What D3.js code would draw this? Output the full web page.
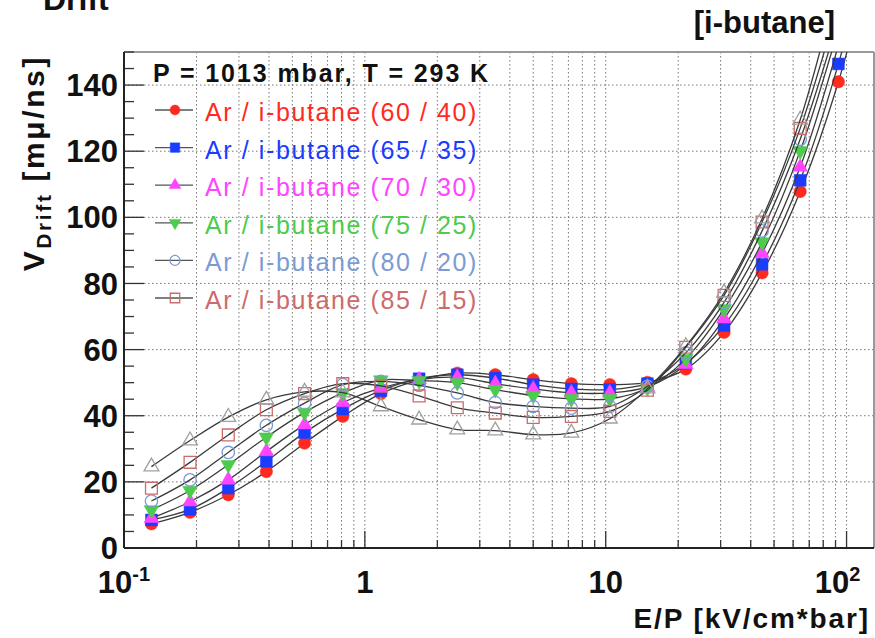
<!DOCTYPE html>
<html>
<head>
<meta charset="utf-8">
<script src="https://cdn.jsdelivr.net/npm/d3@7"></script>
<style>
  body { margin: 0; background: #fff; }
  svg { display: block; font-family: "Liberation Sans", Arial, Helvetica, sans-serif; }
</style>
</head>
<body>
<div id="chart"></div>
<script>
// E/P values (kV/cm*bar) of the measured points
const epValues = [0.13, 0.188, 0.271, 0.39, 0.562, 0.81, 1.165, 1.68, 2.42, 3.48,
  5.0, 7.2, 10.4, 14.9, 21.5, 31.0, 44.6, 64.2, 92.5, 133];

// drift velocities per mixture
const vAr60 = [7.3, 10.8, 16.1, 23.1, 31.7, 39.8, 46.7, 50.8, 52.9, 52.4,
  50.9, 49.7, 49.4, 50.1, 54.1, 65.2, 83.2, 107.8, 141.0, 185];
const vAr65 = [8.5, 11.7, 18.1, 26.2, 34.9, 42.0, 47.6, 51.2, 52.4, 51.4,
  49.4, 48.1, 47.9, 49.7, 55.8, 67.3, 85.8, 111.2, 146.4, 192];
const vAr70 = [9.0, 14.0, 20.6, 29.2, 37.3, 44.0, 48.4, 50.9, 51.6, 49.7,
  48.1, 46.9, 46.9, 48.7, 55.5, 69.3, 89.1, 115.2, 152];
const vAr75 = [11.5, 17.4, 25.2, 33.5, 41.0, 46.9, 50.8, 50.6, 50.0, 47.9,
  46.1, 45.1, 45.1, 48.4, 57.2, 72.3, 92.5, 120.1, 157];
const vAr80 = [14.2, 20.6, 28.9, 37.1, 43.8, 49.4, 50.4, 49.2, 46.9, 44.0,
  42.8, 42.3, 42.8, 48.9, 59.0, 74.3, 95.9, 123.6, 160];
const vAr85 = [18.1, 25.9, 34.2, 41.8, 46.7, 49.7, 49.0, 46.0, 42.4, 40.8,
  39.5, 39.8, 41.3, 47.7, 60.7, 76.4, 98.6, 126.9, 165];
const vAr90 = [24.6, 32.5, 39.6, 44.8, 47.2, 47.0, 42.8, 38.8, 35.8, 35.5,
  34.3, 34.8, 39.1, 48.2, 61.0, 77.2, 99.6, 129.5, 172];

const seriesNames = ['Ar / i-butane (60 / 40)', 'Ar / i-butane (65 / 35)', 'Ar / i-butane (70 / 30)',
  'Ar / i-butane (75 / 25)', 'Ar / i-butane (80 / 20)', 'Ar / i-butane (85 / 15)', ''];
const seriesValues = [vAr60, vAr65, vAr70, vAr75, vAr80, vAr85, vAr90];
const seriesColors = ['#ff2a1f', '#1a3cff', '#ff44ff', '#4ccb4c', '#7b9bd4', '#cc6b6b', '#a0a0a0'];
const seriesMarkers = ['circle', 'square', 'triangle', 'triangleDown', 'openCircle', 'openSquare', 'openTriangle'];

const yTicks = [0, 20, 40, 60, 80, 100, 120, 140];

const width = 875;
const height = 638;
const margin = { top: 52, right: 1, bottom: 90, left: 124 };
const plotW = width - margin.left - margin.right;
const plotH = height - margin.top - margin.bottom;

const x = d3.scaleLog().domain([0.1, 130]).range([0, plotW]);
const y = d3.scaleLinear().domain([0, 150]).range([plotH, 0]);

const svg = d3.select('#chart').append('svg')
  .attr('width', width)
  .attr('height', height);

svg.append('defs').append('clipPath')
  .attr('id', 'plotClip')
  .append('rect')
  .attr('width', plotW)
  .attr('height', plotH);

const g = svg.append('g').attr('transform', `translate(${margin.left},${margin.top})`);

// log tick positions: 1..9 times each decade
const logTicks = [];
[0.1, 1, 10, 100].forEach((dec) => {
  for (let k = 1; k < 10; k += 1) {
    const v = dec * k;
    if (v <= 130) logTicks.push({ v, major: k === 1 });
  }
});

// grid
g.append('g').selectAll('line')
  .data(logTicks.filter((t) => t.v > 0.1))
  .join('line')
  .attr('x1', (d) => x(d.v))
  .attr('x2', (d) => x(d.v))
  .attr('y1', 0)
  .attr('y2', plotH)
  .attr('stroke', '#777')
  .attr('stroke-width', 1)
  .attr('stroke-dasharray', '1.5,2.5');
g.append('g').selectAll('line')
  .data(yTicks.filter((t) => t > 0))
  .join('line')
  .attr('x1', 0)
  .attr('x2', plotW)
  .attr('y1', (d) => y(d))
  .attr('y2', (d) => y(d))
  .attr('stroke', '#777')
  .attr('stroke-width', 1)
  .attr('stroke-dasharray', '1.5,2.5');

// frame (top / right lighter)
g.append('line').attr('x1', 0).attr('x2', plotW).attr('y1', 0).attr('y2', 0)
  .attr('stroke', '#999').attr('stroke-width', 2);
g.append('line').attr('x1', plotW).attr('x2', plotW).attr('y1', 0).attr('y2', plotH)
  .attr('stroke', '#999').attr('stroke-width', 2);

// y axis ticks, inward
const yMinor = d3.range(0, 151, 5);
g.append('g').selectAll('line')
  .data(yMinor)
  .join('line')
  .attr('x1', 0)
  .attr('x2', (d) => (d % 20 === 0 ? 20 : 10))
  .attr('y1', (d) => y(d))
  .attr('y2', (d) => y(d))
  .attr('stroke', '#333')
  .attr('stroke-width', 1.3);

// x axis ticks, inward
g.append('g').selectAll('line')
  .data(logTicks)
  .join('line')
  .attr('x1', (d) => x(d.v))
  .attr('x2', (d) => x(d.v))
  .attr('y1', plotH)
  .attr('y2', (d) => plotH - (d.major ? 17 : 8))
  .attr('stroke', '#333')
  .attr('stroke-width', 1.3);

// axis lines
g.append('line').attr('x1', 0).attr('x2', plotW).attr('y1', plotH).attr('y2', plotH)
  .attr('stroke', '#222').attr('stroke-width', 2);
g.append('line').attr('x1', 0).attr('x2', 0).attr('y1', 0).attr('y2', plotH)
  .attr('stroke', '#222').attr('stroke-width', 2);

// y tick labels
g.append('g').selectAll('text')
  .data(yTicks)
  .join('text')
  .attr('x', -6)
  .attr('y', (d) => y(d))
  .attr('dy', '0.36em')
  .attr('text-anchor', 'end')
  .attr('font-size', 31)
  .attr('font-weight', 'bold')
  .attr('fill', '#111')
  .text((d) => d);

// x tick labels
const xLabels = [
  { v: 0.1, base: '10', exp: '-1', dx: 0 },
  { v: 1, base: '1', exp: '', dx: 0 },
  { v: 10, base: '10', exp: '', dx: 0 },
  { v: 100, base: '10', exp: '2', dx: -9 },
];
xLabels.forEach((l) => {
  const t = g.append('text')
    .attr('x', x(l.v) + l.dx)
    .attr('y', plotH + 45)
    .attr('text-anchor', 'middle')
    .attr('font-size', 31)
    .attr('font-weight', 'bold')
    .attr('fill', '#111');
  t.append('tspan').text(l.base);
  if (l.exp) {
    t.append('tspan').attr('dy', -12).attr('font-size', 20).text(l.exp);
  }
});

// axis titles
svg.append('text')
  .attr('x', 870)
  .attr('y', 628)
  .attr('text-anchor', 'end')
  .attr('font-size', 28)
  .attr('font-weight', 'bold')
  .attr('letter-spacing', 1.9)
  .attr('fill', '#111')
  .text('E/P [kV/cm*bar]');

const yTitle = svg.append('text')
  .attr('transform', 'translate(44,55) rotate(-90)')
  .attr('text-anchor', 'end')
  .attr('font-size', 30)
  .attr('font-weight', 'bold')
  .attr('letter-spacing', 2.6)
  .attr('fill', '#111');
yTitle.append('tspan').text('V');
yTitle.append('tspan').attr('font-size', 21).attr('dy', 7).text('Drift');
yTitle.append('tspan').attr('dy', -7).text(' [mμ/ns]');

// titles at top
svg.append('text')
  .attr('x', 43)
  .attr('y', 10)
  .attr('font-size', 32)
  .attr('font-weight', 'bold')
  .attr('fill', '#111')
  .text('Drift');
svg.append('text')
  .attr('x', 835)
  .attr('y', 33)
  .attr('text-anchor', 'end')
  .attr('font-size', 31)
  .attr('font-weight', 'bold')
  .attr('fill', '#111')
  .text('[i-butane]');

// marker drawing
function drawMarker(sel, kind, color, scale) {
  const s = scale || 1;
  const filled = !kind.startsWith('open');
  let type = d3.symbolCircle;
  let size = 120;
  let rot = 0;
  if (kind === 'square' || kind === 'openSquare') { type = d3.symbolSquare; size = 140; }
  if (kind === 'triangle' || kind === 'openTriangle' || kind === 'triangleDown') {
    type = d3.symbolTriangle; size = 95;
  }
  if (kind === 'triangleDown') rot = 180;
  sel.append('path')
    .attr('d', d3.symbol().type(type).size(size * s * s)())
    .attr('transform', (d) => `translate(${d[0]},${d[1]}) rotate(${rot})`)
    .attr('fill', filled ? color : 'none')
    .attr('stroke', color)
    .attr('stroke-width', filled ? 0.5 : 1.3);
}

const plot = g.append('g').attr('clip-path', 'url(#plotClip)');
const line = d3.line().curve(d3.curveCatmullRom.alpha(0.5));

seriesValues.forEach((vals, i) => {
  const pts = vals.map((v, j) => [x(epValues[j]), y(v)]);
  plot.append('path')
    .attr('d', line(pts))
    .attr('fill', 'none')
    .attr('stroke', '#3a3a3a')
    .attr('stroke-width', 1.3);
  const m = plot.append('g').selectAll('g')
    .data(pts)
    .join('g');
  drawMarker(m, seriesMarkers[i], seriesColors[i], 1);
});

// legend
svg.append('text')
  .attr('x', 153)
  .attr('y', 82)
  .attr('font-size', 25)
  .attr('font-weight', 'bold')
  .attr('letter-spacing', 1.9)
  .attr('fill', '#111')
  .text('P = 1013 mbar, T = 293 K');

const legendRows = seriesNames.slice(0, 6);
legendRows.forEach((name, i) => {
  const cy = 110 + i * 37.6;
  const row = svg.append('g');
  row.append('line')
    .attr('x1', 155).attr('x2', 193)
    .attr('y1', cy).attr('y2', cy)
    .attr('stroke', '#555').attr('stroke-width', 1.3);
  const m = row.append('g').selectAll('g').data([[175, cy]]).join('g');
  drawMarker(m, seriesMarkers[i], seriesColors[i], 0.8);
  row.append('text')
    .attr('x', 205)
    .attr('y', cy + 11)
    .attr('font-size', 25)
    .attr('letter-spacing', 1.6)
    .attr('fill', seriesColors[i])
    .text(name);
});
</script>
</body>
</html>
